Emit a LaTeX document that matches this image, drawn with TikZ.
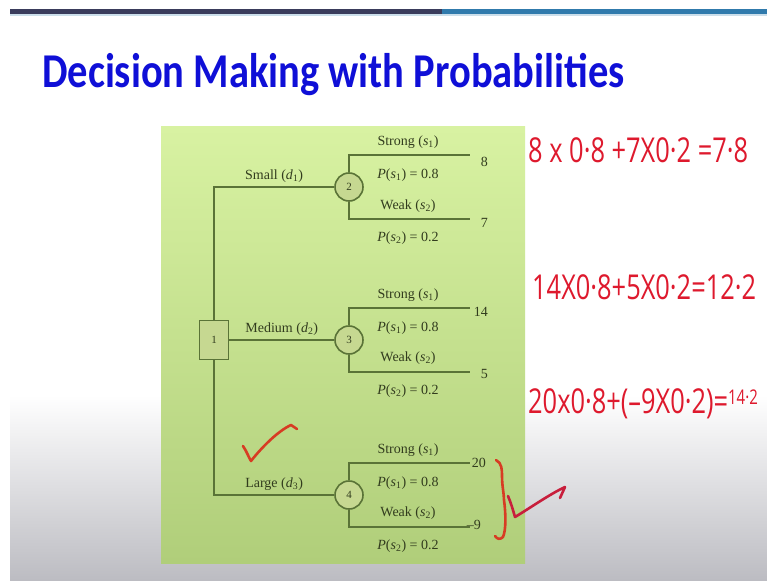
\documentclass[tikz,border=0pt]{standalone}
\usepackage{fontspec}
\usepackage{graphicx}
\setmainfont{Liberation Serif}
\newfontfamily\titlefont{Carlito}
\newfontfamily\handfont{Open Sans}
\definecolor{treeline}{RGB}{90,115,55}
\definecolor{treetext}{RGB}{50,60,30}
\definecolor{nodefill}{RGB}{198,216,145}
\definecolor{boxtop}{RGB}{216,242,162}
\definecolor{boxbottom}{RGB}{176,206,122}
\definecolor{inkred}{RGB}{222,25,45}
\definecolor{inkorange}{RGB}{215,60,35}
\definecolor{inkcrimson}{RGB}{200,30,60}
\definecolor{titleblue}{RGB}{15,15,215}
\definecolor{barnavy}{RGB}{58,60,92}
\definecolor{barblue}{RGB}{48,122,172}
\definecolor{slidegray}{RGB}{188,188,194}
\newcommand{\sv}[1]{\textit{s}\textsubscript{#1}}
\newcommand{\dv}[1]{\textit{d}\textsubscript{#1}}
\begin{document}
\begin{tikzpicture}[x=1pt,y=-1pt]
\tikzstyle{Square} = [draw=treeline, fill=nodefill, line width=1.6, minimum width=29, minimum height=39, inner sep=0, text=treetext, font=\fontsize{11}{11}\selectfont]
\tikzstyle{Chance} = [draw=treeline, fill=nodefill, shape=circle, line width=1.6, minimum size=28, inner sep=0, text=treetext, font=\fontsize{11}{11}\selectfont]
\tikzstyle{Lbl} = [text=treetext, font=\fontsize{14}{14}\selectfont, inner sep=0]
\tikzstyle{Pay} = [text=treetext, font=\fontsize{14}{14}\selectfont, anchor=east, inner sep=0]
\tikzstyle{Line} = [draw=treeline, line width=1.4]
\tikzstyle{Ink} = [text=inkred, font=\handfont\fontsize{25.4}{25.4}\selectfont, anchor=west, inner sep=0]
\tikzstyle{Stroke} = [line width=2.6, line cap=round, line join=round]
\useasboundingbox (0,0) rectangle (767,580);
\clip (0,0) rectangle (767,580);
\fill[white] (0,0) rectangle (767,580);
\shade[top color=white, bottom color=slidegray] (10,395) rectangle (767,580);
\fill[barnavy] (10,9) rectangle (442,14);
\fill[barblue] (442,9) rectangle (767,14);
\fill[barblue!25] (10,14) rectangle (767,16);
\node [anchor=base west, text=titleblue, inner sep=0] (title) at (42,88) {\titlefont\bfseries\fontsize{40.5}{40.5}\selectfont\scalebox{1}[1.2]{Decision Making with Probabilities}};
\shade[top color=boxtop, bottom color=boxbottom] (161,127) rectangle (525,563);
\node [Square] (n1) at (214,340) {1};
\node [Chance] (n2) at (349,187) {2};
\node [Chance] (n3) at (349,340) {3};
\node [Chance] (n4) at (349,495) {4};
\coordinate (e21) at (470,155);
\coordinate (e22) at (470,219);
\coordinate (e31) at (470,308);
\coordinate (e32) at (470,372);
\coordinate (e41) at (470,463);
\coordinate (e42) at (470,527);
\node [Lbl] (st2) at (408,142) {Strong (\sv{1})};
\node [Lbl] (pa2) at (408,175) {\textit{P}(\sv{1}) = 0.8};
\node [Lbl] (wk2) at (408,206) {Weak (\sv{2})};
\node [Lbl] (pb2) at (408,238) {\textit{P}(\sv{2}) = 0.2};
\node [Lbl] (st3) at (408,295) {Strong (\sv{1})};
\node [Lbl] (pa3) at (408,328) {\textit{P}(\sv{1}) = 0.8};
\node [Lbl] (wk3) at (408,358) {Weak (\sv{2})};
\node [Lbl] (pb3) at (408,391) {\textit{P}(\sv{2}) = 0.2};
\node [Lbl] (st4) at (408,450) {Strong (\sv{1})};
\node [Lbl] (pa4) at (408,483) {\textit{P}(\sv{1}) = 0.8};
\node [Lbl] (wk4) at (408,513) {Weak (\sv{2})};
\node [Lbl] (pb4) at (408,546) {\textit{P}(\sv{2}) = 0.2};
\node [Pay] (p21) at (488,162) {8};
\node [Pay] (p22) at (488,223) {7};
\node [Pay] (p31) at (488,312) {14};
\node [Pay] (p32) at (488,374) {5};
\node [Pay] (p41) at (486,463) {20};
\node [Pay] (p42) at (481,525) {\textendash9};
\draw [Line] (n1) |- (n2) node[Lbl,pos=0.75,above=4] {Small (\dv{1})};
\draw [Line] (n1) -- (n3) node[Lbl,midway,above=4] {Medium (\dv{2})};
\draw [Line] (n1) |- (n4) node[Lbl,pos=0.75,above=4] {Large (\dv{3})};
\draw [Line] (n2) |- (e21);
\draw [Line] (n2) |- (e22);
\draw [Line] (n3) |- (e31);
\draw [Line] (n3) |- (e32);
\draw [Line] (n4) |- (e41);
\draw [Line] (n4) |- (e42);
\node [Ink] (h2) at (528,150) {\scalebox{1}[1.35]{8 x 0·8 +7X0·2 =7·8}};
\node [Ink] (h3) at (532,287) {\scalebox{1}[1.35]{14X0·8+5X0·2=12·2}};
\node [Ink] (h4) at (528,404) {\scalebox{1}[1.35]{20x0·8+(–9X0·2)=\raisebox{7pt}{\fontsize{15}{15}\selectfont 14·2}}};
\draw [Stroke, draw=inkorange] (243,446) .. controls (247,452) and (249,458) .. (251,461) .. controls (262,447) and (278,431) .. (291,425) -- (297,429);
\draw [Stroke, draw=inkorange] (496,460) .. controls (502,463) and (502,470) .. (502,476) .. controls (502,486) and (504,494) .. (504,500) .. controls (506,515) and (506,530) .. (503,537) .. controls (500,540) and (497,539) .. (495,536);
\draw [Stroke, draw=inkcrimson] (508,496) .. controls (511,503) and (513,510) .. (515,517) .. controls (530,508) and (550,494) .. (565,487) -- (560,498);
\end{tikzpicture}
\end{document}
